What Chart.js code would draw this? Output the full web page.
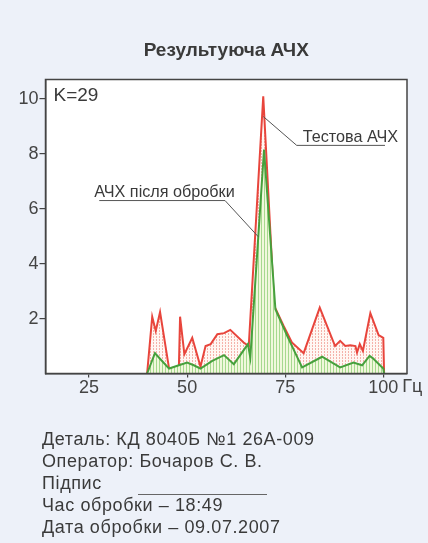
<!DOCTYPE html>
<html>
<head>
<meta charset="utf-8">
<script src="https://cdn.jsdelivr.net/npm/chart.js@4.4.1/dist/chart.umd.min.js"></script>
<style>
html,body{margin:0;padding:0;background:#edf1f9;}
#wrap{position:relative;width:428px;height:543px;overflow:hidden;background:#edf1f9;}
#c{position:absolute;left:0;top:0;}
#info{position:absolute;left:42px;top:428px;font-family:"Liberation Sans",Arial,sans-serif;font-size:18px;letter-spacing:0.6px;line-height:22px;color:#3a3a3a;white-space:nowrap;}
#sig{position:absolute;left:138px;top:494px;width:129px;height:1px;background:#666;}
</style>
</head>
<body>
<div id="wrap">
<canvas id="c" width="428" height="543"></canvas>
<div id="info">
<div>Деталь: КД 8040Б №1 26А-009</div>
<div>Оператор: Бочаров С. В.</div>
<div>Підпис</div>
<div>Час обробки – 18:49</div>
<div>Дата обробки – 09.07.2007</div>
</div>
<div id="sig"></div>
</div>
<script>
// ---- data ----
const testX = [39.8, 41.1, 42.0, 43.1, 45.4, 47.9, 48.2, 49.3, 51.3, 53.4, 54.7, 56.0, 57.7, 59.4, 61.0, 64.4, 65.7, 69.4, 72.2, 74.6, 76.7, 79.7, 83.8, 87.7, 89.0, 90.3, 91.6, 92.9, 93.3, 94.0, 94.8, 96.7, 98.8, 100.0, 100.2];
const testY = [0, 2.07, 1.55, 2.24, 0.18, 0.25, 2.07, 0.7, 1.3, 0.25, 1.0, 1.07, 1.43, 1.47, 1.59, 1.13, 1.0, 10.1, 2.46, 1.73, 1.13, 0.74, 2.4, 1.0, 1.19, 1.0, 1.03, 1.0, 0.76, 1.07, 0.82, 2.2, 1.4, 1.3, 0];
const procX = [39.8, 41.8, 43.2, 45.4, 47.9, 50.0, 51.7, 53.4, 56.4, 59.4, 61.9, 65.5, 66.1, 69.6, 72.5, 75.5, 79.3, 84.4, 89.0, 92.4, 94.6, 96.5, 97.3, 100.0, 100.2];
const procY = [0, 0.74, 0.52, 0.18, 0.3, 0.4, 0.3, 0.18, 0.46, 0.67, 0.34, 1.07, 0.58, 8.16, 2.34, 1.37, 0.22, 0.61, 0.22, 0.4, 0.3, 0.64, 0.56, 0.18, 0];
const xTicks = [25, 50, 75, 100];
const yTicks = [2, 4, 6, 8, 10];
const titleText = 'Результуюча АЧХ';
const kLabel = 'K=29';
const testLabel = 'Тестова АЧХ';
const procLabel = 'АЧХ після обробки';
const unitLabel = 'Гц';

const FONT = '"Liberation Sans", Arial, sans-serif';

function makePattern(w, h, bg, fg, cells) {
  const c = document.createElement('canvas');
  c.width = w; c.height = h;
  const g = c.getContext('2d');
  g.fillStyle = bg; g.fillRect(0, 0, w, h);
  g.fillStyle = fg;
  cells.forEach(p => g.fillRect(p[0], p[1], 1, 1));
  return document.getElementById('c').getContext('2d').createPattern(c, 'repeat');
}
const greenPat = makePattern(3, 1, '#f1f8dc', '#a6d98e', [[0, 0]]);
const pinkPat = makePattern(3, 3, '#fff7f3', '#f4b2aa', [[0, 0], [0, 1]]);

const toPts = (xs, ys) => xs.map((x, i) => ({ x: x, y: ys[i] }));

const deco = {
  id: 'deco',
  beforeDraw(chart) {
    const a = chart.chartArea, ctx = chart.ctx;
    ctx.save();
    ctx.fillStyle = '#ffffff';
    ctx.fillRect(a.left, a.top, a.right - a.left, a.bottom - a.top);
    ctx.restore();
  },
  afterDraw(chart) {
    const a = chart.chartArea, ctx = chart.ctx;
    const xs = chart.scales.x, ys = chart.scales.y;
    const P = (p) => [xs.getPixelForValue(p[0]), ys.getPixelForValue(p[1])];
    ctx.save();
    // frame
    ctx.strokeStyle = '#444';
    ctx.lineWidth = 1.5;
    ctx.strokeRect(a.left, a.top, a.right - a.left, a.bottom - a.top);
    // K label
    ctx.fillStyle = '#3a3a3a';
    ctx.font = '19px ' + FONT;
    ctx.textBaseline = 'middle';
    ctx.textAlign = 'left';
    ctx.fillText(kLabel, a.left + 8, a.top + 16);
    // leaders
    const testLeader = [[69.42, 9.36], [77.93, 8.31], [100.43, 8.31]];
    const procLeader = [[68.15, 4.98], [59.66, 6.30], [27.6, 6.30]];
    ctx.strokeStyle = '#555';
    ctx.lineWidth = 1;
    [testLeader, procLeader].forEach(L => {
      ctx.beginPath();
      L.forEach((p, i) => { const q = P(p); if (i) ctx.lineTo(q[0], q[1]); else ctx.moveTo(q[0], q[1]); });
      ctx.stroke();
    });
    ctx.font = '16.2px ' + FONT;
    ctx.textBaseline = 'alphabetic';
    let q = P(testLeader[1]);
    ctx.fillText(testLabel, q[0] + 6, q[1] - 3);
    q = P(procLeader[2]);
    ctx.fillText(procLabel, q[0] - 5, q[1] - 3.5);
    // unit after last x tick label
    ctx.font = '18px ' + FONT;
    ctx.textBaseline = 'middle';
    const lastX = xs.getPixelForValue(xTicks[xTicks.length - 1]);
    const w = ctx.measureText(String(xTicks[xTicks.length - 1])).width;
    ctx.fillStyle = '#444';
    ctx.fillText(unitLabel, lastX + w / 2 + 4, a.bottom + 13.5);
    ctx.restore();
  }
};

new Chart(document.getElementById('c'), {
  type: 'line',
  data: {
    datasets: [
      {
        label: procLabel,
        data: toPts(procX, procY),
        borderColor: '#46a03c',
        borderWidth: 2,
        backgroundColor: greenPat,
        fill: 'origin',
        pointRadius: 0,
        tension: 0,
        order: 0
      },
      {
        label: testLabel,
        data: toPts(testX, testY),
        borderColor: '#e8453c',
        borderWidth: 2,
        backgroundColor: pinkPat,
        fill: 'origin',
        pointRadius: 0,
        tension: 0,
        order: 1
      }
    ]
  },
  options: {
    responsive: false,
    animation: false,
    devicePixelRatio: 1,
    layout: { padding: { left: 0, right: 21, top: 0, bottom: 129.5 } },
    plugins: {
      legend: { display: false },
      tooltip: { enabled: false },
      title: {
        display: true,
        text: titleText,
        fullSize: false,
        color: '#3a3a3a',
        font: { family: FONT, size: 19, weight: 'bold' },
        padding: { top: 39, bottom: 17.7 }
      }
    },
    scales: {
      x: {
        type: 'linear',
        min: 13.9,
        max: 106.04,
        afterBuildTicks: (s) => { s.ticks = xTicks.map(v => ({ value: v })); },
        afterFit: (s) => { s.height = 40; },
        grid: { display: true, drawOnChartArea: false, drawTicks: true, tickLength: 4, color: '#444', lineWidth: 1.2 },
        border: { display: true, color: '#444', width: 1.5 },
        ticks: { color: '#444', font: { family: FONT, size: 18 }, padding: 0, maxRotation: 0, autoSkip: false }
      },
      y: {
        type: 'linear',
        min: 0,
        max: 10.71,
        afterBuildTicks: (s) => { s.ticks = yTicks.map(v => ({ value: v })); },
        afterFit: (s) => { s.width = 45.5; },
        grid: { display: true, drawOnChartArea: false, drawTicks: true, tickLength: 6, color: '#444', lineWidth: 1.2 },
        border: { display: true, color: '#444', width: 1.5 },
        ticks: { color: '#444', font: { family: FONT, size: 18 }, padding: 1, autoSkip: false }
      }
    }
  },
  plugins: [deco]
});
</script>
</body>
</html>
